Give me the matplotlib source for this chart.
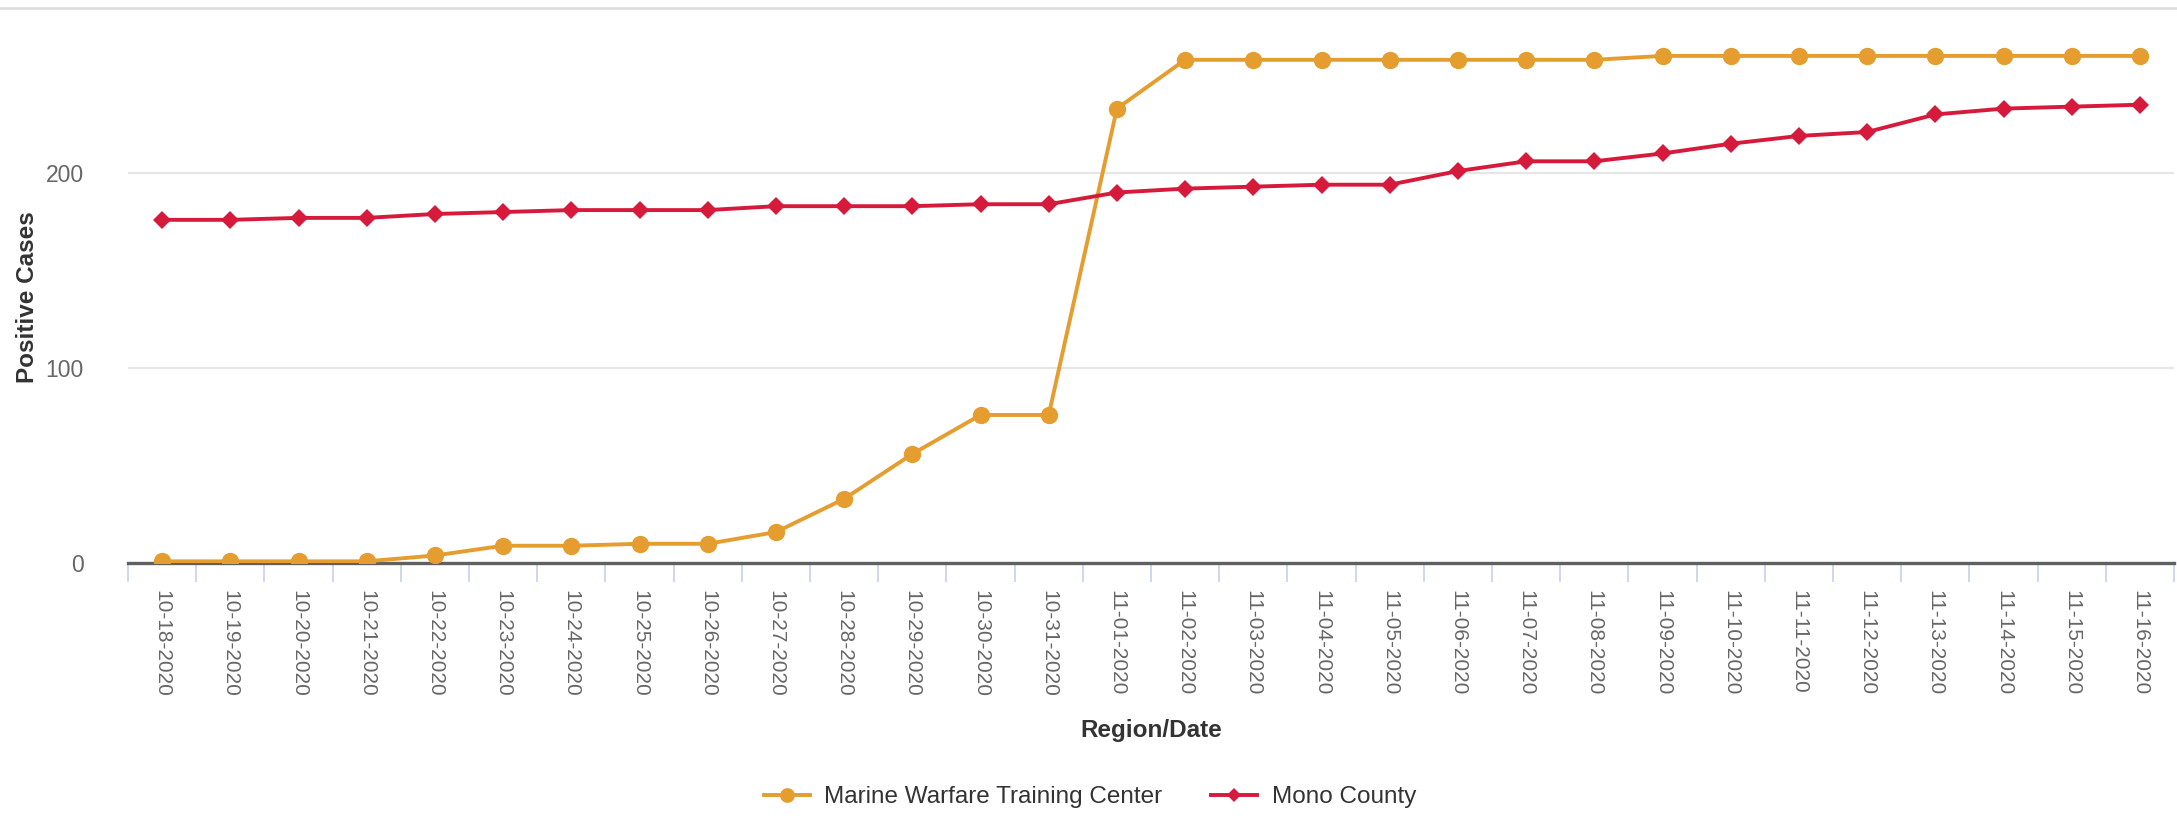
import matplotlib
matplotlib.use("Agg")
import matplotlib.pyplot as plt
from matplotlib.lines import Line2D

plt.rcParams["font.family"] = ["Liberation Sans", "DejaVu Sans"]

dates = [
    "10-18-2020", "10-19-2020", "10-20-2020", "10-21-2020", "10-22-2020",
    "10-23-2020", "10-24-2020", "10-25-2020", "10-26-2020", "10-27-2020",
    "10-28-2020", "10-29-2020", "10-30-2020", "10-31-2020", "11-01-2020",
    "11-02-2020", "11-03-2020", "11-04-2020", "11-05-2020", "11-06-2020",
    "11-07-2020", "11-08-2020", "11-09-2020", "11-10-2020", "11-11-2020",
    "11-12-2020", "11-13-2020", "11-14-2020", "11-15-2020", "11-16-2020",
]
marine = [1, 1, 1, 1, 4, 9, 9, 10, 10, 16, 33, 56, 76, 76, 233,
          258, 258, 258, 258, 258, 258, 258, 260, 260, 260, 260, 260, 260, 260, 260]
mono = [176, 176, 177, 177, 179, 180, 181, 181, 181, 183, 183, 183, 184, 184, 190,
        192, 193, 194, 194, 201, 206, 206, 210, 215, 219, 221, 230, 233, 234, 235]

color_marine = "#e49d2e"
color_mono = "#d61a3c"

W, H = 2177, 822
fig = plt.figure(figsize=(W / 100, H / 100), dpi=100)
# plot area in pixels: x 128..2174, y 8.3..563.3 (from top)
ax = fig.add_axes([128 / W, 1 - 563.3 / H, (2174 - 128) / W, (563.3 - 8.3) / H])

x = list(range(len(dates)))
ax.plot(x, marine, color=color_marine, lw=2.8, marker="o", ms=12.5,
        markeredgewidth=0, label="Marine Warfare Training Center", zorder=3)
ax.plot(x, mono, color=color_mono, lw=2.8, marker="D", ms=8.8,
        markeredgewidth=0, label="Mono County", zorder=4)

ax.set_xlim(-0.5, len(dates) - 0.5)
ax.set_ylim(0, 284.4)
ax.set_yticks([0, 100, 200])
ax.grid(axis="y", color="#e6e6e6", lw=1.6)
ax.set_axisbelow(True)

for side in ["top", "right", "left"]:
    ax.spines[side].set_visible(False)
ax.spines["bottom"].set_color("#606060")
ax.spines["bottom"].set_linewidth(2.4)
ax.spines["bottom"].set_zorder(2)

ax.set_xticks(x)
ax.set_xticklabels(dates, rotation=270, color="#666666", fontsize=15)
ax.tick_params(axis="x", length=0, pad=19)
ax.set_xticks([i - 0.5 for i in range(len(dates) + 1)], minor=True)
ax.tick_params(axis="x", which="minor", length=14, width=1.3, color="#ccd6eb")
ax.tick_params(axis="y", length=0, pad=32, labelsize=16.5, labelcolor="#666666")

ax.set_xlabel("Region/Date", fontsize=17.5, fontweight="bold", color="#333333")
ax.xaxis.set_label_coords(0.5, -(731 - 563.3) / (563.3 - 8.3), transform=ax.transAxes)
ax.xaxis.label.set_va("center")
ax.set_ylabel("Positive Cases", fontsize=17.5, fontweight="bold", color="#333333")
ax.yaxis.set_label_coords(-(128 - 28) / (2174 - 128), (563.3 - 297) / (563.3 - 8.3))
ax.yaxis.label.set_va("center")

# thin separator line at the very top
fig.add_artist(Line2D([0, 1], [1 - 8.3 / H, 1 - 8.3 / H], color="#dcdcdc", lw=1.8))

leg = fig.legend(loc="center", bbox_to_anchor=(1090 / W, 1 - 797 / H), ncol=2,
                 frameon=False, fontsize=17.5, handlelength=1.9, columnspacing=2.0,
                 handletextpad=0.6, markerscale=0.85)
for t in leg.get_texts():
    t.set_color("#333333")

fig.savefig("out.png", dpi=100)
